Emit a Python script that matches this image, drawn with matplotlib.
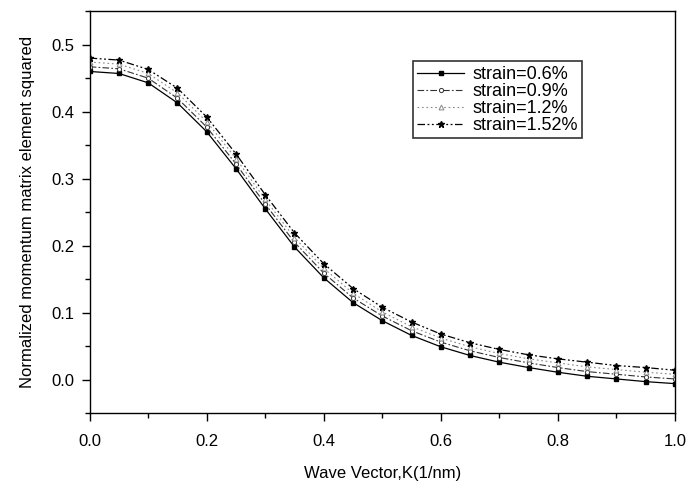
import matplotlib
matplotlib.use('Agg')
import matplotlib.pyplot as plt
from matplotlib.ticker import MultipleLocator, FormatStrFormatter

plt.rcParams.update({
    'font.family': ['Liberation Sans', 'DejaVu Sans'],
    'font.size': 12,
    'axes.linewidth': 1.0,
})

# ── 数据 ──
k = [0.0, 0.05, 0.1, 0.15, 0.2, 0.25, 0.3, 0.35, 0.4, 0.45, 0.5,
     0.55, 0.6, 0.65, 0.7, 0.75, 0.8, 0.85, 0.9, 0.95, 1.0]
s06 = [0.460, 0.457, 0.443, 0.413, 0.370, 0.315, 0.255, 0.198, 0.152, 0.115, 0.088,
       0.066, 0.049, 0.036, 0.026, 0.018, 0.011, 0.005, 0.001, -0.003, -0.006]
s09 = [0.467, 0.464, 0.450, 0.420, 0.377, 0.322, 0.262, 0.205, 0.159, 0.122, 0.095,
       0.073, 0.056, 0.043, 0.033, 0.025, 0.018, 0.012, 0.008, 0.004, 0.001]
s12 = [0.474, 0.471, 0.457, 0.428, 0.385, 0.330, 0.269, 0.212, 0.166, 0.129, 0.101,
       0.079, 0.062, 0.049, 0.039, 0.031, 0.025, 0.019, 0.015, 0.011, 0.008]
s152 = [0.480, 0.477, 0.463, 0.435, 0.392, 0.337, 0.276, 0.219, 0.173, 0.136, 0.108,
        0.086, 0.068, 0.055, 0.045, 0.037, 0.031, 0.026, 0.021, 0.018, 0.014]
labels = ['strain=0.6%', 'strain=0.9%', 'strain=1.2%', 'strain=1.52%']

fig = plt.figure(figsize=(6.9, 4.86), dpi=100)
ax = fig.add_axes([0.130, 0.150, 0.848, 0.827])

ax.plot(k, s06, color='black', linestyle='-', linewidth=0.9,
        marker='s', markersize=3, markerfacecolor='black', label=labels[0])
ax.plot(k, s09, color='#333333', linestyle=(0, (6, 2, 1.5, 2)), linewidth=0.8,
        marker='o', markersize=3, markerfacecolor='white', markeredgewidth=0.7,
        label=labels[1])
ax.plot(k, s12, color='#888888', linestyle=(0, (1.5, 2.5)), linewidth=0.8,
        marker='^', markersize=3.5, markerfacecolor='white', markeredgewidth=0.7,
        label=labels[2])
ax.plot(k, s152, color='black', linestyle=(0, (6, 2, 1.5, 2, 1.5, 2)), linewidth=0.9,
        marker='*', markersize=4.5, markerfacecolor='black', label=labels[3])

# ── 坐标轴 ──
ax.set_xlim(0.0, 1.0)
ax.set_ylim(-0.05, 0.55)
ax.xaxis.set_major_locator(MultipleLocator(0.2))
ax.xaxis.set_minor_locator(MultipleLocator(0.1))
ax.yaxis.set_major_locator(MultipleLocator(0.1))
ax.yaxis.set_minor_locator(MultipleLocator(0.05))
ax.tick_params(which='major', direction='out', length=6, width=1.0, pad=5)
ax.tick_params(axis='x', which='major', pad=9)
ax.tick_params(which='minor', direction='out', length=3.5, width=1.0)
ax.xaxis.set_major_formatter(FormatStrFormatter('%.1f'))
ax.yaxis.set_major_formatter(FormatStrFormatter('%.1f'))
ax.set_xlabel('Wave Vector,K(1/nm)', fontsize=12, labelpad=12)
ax.set_ylabel('Normalized momentum matrix element squared', fontsize=12, labelpad=12)

# ── 图例 ──
leg = ax.legend(loc='upper left', bbox_to_anchor=(0.552, 0.875), frameon=True,
                fancybox=False, edgecolor='black', fontsize=13,
                handlelength=2.6, borderpad=0.25, labelspacing=0.0, handletextpad=0.45,
                borderaxespad=0)
leg.get_frame().set_linewidth(1.2)

fig.savefig('out.png', dpi=100)
plt.close(fig)
